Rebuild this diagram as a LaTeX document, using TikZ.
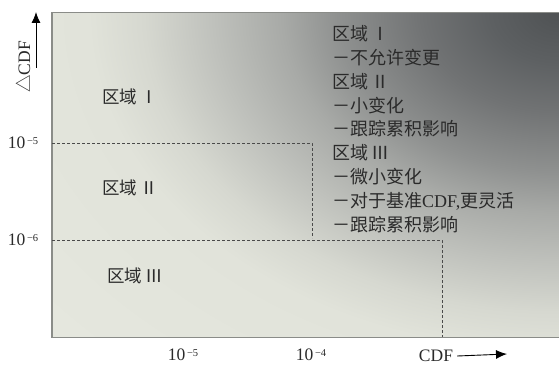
\documentclass[tikz,border=0pt]{standalone}
\usepackage{fontspec}
\setmainfont{Liberation Serif}
\newfontfamily\cjk{Noto Sans CJK SC}
\usetikzlibrary{arrows.meta}
\definecolor{sc0}{HTML}{4F5254}
\definecolor{sc1}{HTML}{5D6062}
\definecolor{sc2}{HTML}{717374}
\definecolor{sc3}{HTML}{8F9190}
\definecolor{sc4}{HTML}{A8AAA7}
\definecolor{sc5}{HTML}{BFC1BC}
\definecolor{sc6}{HTML}{D6D8D0}
\definecolor{sc7}{HTML}{E1E3DA}
\definecolor{sc8}{HTML}{E6E8DF}
\definecolor{txt}{HTML}{2A2A2A}
\definecolor{frame}{HTML}{8A8C88}
\definecolor{dashc}{HTML}{4A4A4A}
\pgfdeclareradialshading{bgshade}{\pgfpoint{0bp}{0bp}}{color(0bp)=(sc0); color(2.4bp)=(sc1); color(4.81bp)=(sc2); color(7.69bp)=(sc3); color(9.62bp)=(sc4); color(12.02bp)=(sc5); color(14.42bp)=(sc6); color(16.35bp)=(sc7); color(25bp)=(sc8); color(50bp)=(sc8)}
\newcommand{\tenpow}[1]{10\raisebox{0.55ex}{\fontsize{10.5}{10.5}\selectfont\,#1}}
\tikzset{
  zone/.style={text=txt, font=\cjk\fontsize{17.5}{17.5}\selectfont, inner sep=0pt},
  tick/.style={text=txt, font=\fontsize{17.5}{17.5}\selectfont, inner sep=0pt},
  divider/.style={dashc, line width=0.7pt, dash pattern=on 3pt off 2pt},
  axisarrow/.style={black, line width=0.9pt, -{Latex[length=11pt,width=9pt]}},
  frameline/.style={frame, line width=1.4pt}
}
\begin{document}
\begin{tikzpicture}[x=1pt,y=-1pt]
\useasboundingbox (0,0) rectangle (559,366);
% shaded field
\begin{scope}
  \clip (52,12.5) rectangle (559,337.5);
  \shade[shading=bgshade] (559,12) ellipse [x radius=720pt, y radius=520pt];
\end{scope}
\draw[frameline] (559,12.5) -- (52,12.5) -- (52,337.5) -- (559,337.5);
% region boundaries
\draw[divider] (52,143) -- (312,143) -- (312,238);
\draw[divider] (52,240) -- (442,240) -- (442,337);
% zone labels
\node[zone] (z1) at (130,97) {区域\,Ⅰ};
\node[zone] (z2) at (130,188) {区域\,Ⅱ};
\node[zone] (z3) at (135,276) {区域\,Ⅲ};
% legend block
\node[zone, anchor=north west, align=left, font=\cjk\fontsize{18}{23.9}\selectfont] (legend) at (332,25)
{区域\,Ⅰ\\
－不允许变更\\
区域\,Ⅱ\\
－小变化\\
－跟踪累积影响\\
区域\,Ⅲ\\
－微小变化\\
－对于基准{\rmfamily CDF,}更灵活\\
－跟踪累积影响};
% tick labels
\node[tick] (y5) at (23,143) {\tenpow{−5}};
\node[tick] (y6) at (23,240) {\tenpow{−6}};
\node[tick] (x5) at (183,355) {\tenpow{−5}};
\node[tick] (x4) at (311,355) {\tenpow{−4}};
% axes
\coordinate (ya) at (36,68);
\coordinate (yb) at (36,12);
\draw[axisarrow] (ya) -- (yb);
\node[tick, rotate=90] (ylab) at (23,67) {{\cjk △}CDF};
\node[tick] (xlab) at (436,356) {CDF};
\coordinate (xb) at (507,354);
\draw[axisarrow] ([xshift=4pt]xlab.east) -- (xb);
\end{tikzpicture}
\end{document}
